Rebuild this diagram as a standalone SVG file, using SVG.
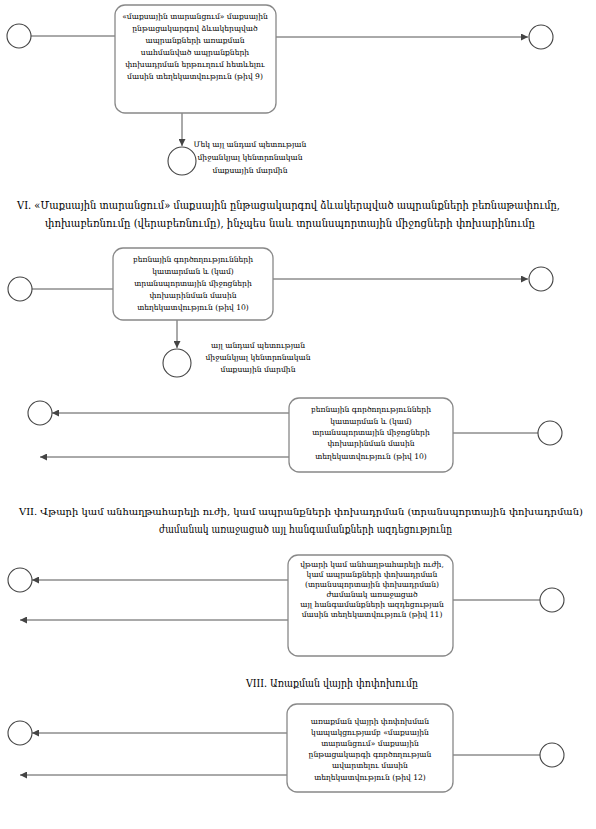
<svg xmlns="http://www.w3.org/2000/svg" width="596" height="829" viewBox="0 0 596 829">
<defs>
<marker id="ah" viewBox="0 0 10 10" refX="10" refY="5" markerWidth="7" markerHeight="7" orient="auto" markerUnits="userSpaceOnUse"><path d="M0,0 L10,5 L0,10 z" fill="#444"/></marker>
<style>
.bx{fill:#fff;stroke:#888;stroke-width:1.3}
.ci{fill:#fff;stroke:#444;stroke-width:1.1}
.ln{fill:none;stroke:#555;stroke-width:1;marker-end:url(#ah)}
.pl{fill:none;stroke:#555;stroke-width:1}
.t{font-family:"DejaVu Serif","DejaVu Sans",serif;font-size:7.6px;fill:#000;text-anchor:middle}
.h{font-family:"DejaVu Serif","DejaVu Sans","Liberation Serif",serif;font-size:10.5px;fill:#000}
</style>
</defs>
<rect width="596" height="829" fill="#fff"/>
<g id="connectors">
<line class="pl" x1="31" y1="36" x2="115" y2="36"/>
<line class="ln" x1="276" y1="37" x2="528" y2="37"/>
<line class="ln" x1="182" y1="113" x2="182" y2="146"/>
<line class="pl" x1="32" y1="289" x2="113" y2="289"/>
<line class="ln" x1="273" y1="279" x2="528" y2="279"/>
<line class="ln" x1="177" y1="320" x2="177" y2="348"/>
<line class="ln" x1="289" y1="413" x2="52" y2="413"/>
<line class="ln" x1="289" y1="457" x2="40" y2="457"/>
<line class="pl" x1="453" y1="433" x2="538" y2="433"/>
<line class="ln" x1="288" y1="580" x2="32" y2="580"/>
<line class="ln" x1="288" y1="620" x2="20" y2="620"/>
<line class="pl" x1="453" y1="600" x2="540" y2="600"/>
<line class="ln" x1="287" y1="733" x2="32" y2="733"/>
<line class="ln" x1="287" y1="775" x2="20" y2="775"/>
<line class="pl" x1="453" y1="755" x2="540" y2="755"/>
</g>
<g id="n1s"><circle class="ci" cx="19" cy="36" r="12"/></g>
<g id="n1e"><circle class="ci" cx="541" cy="37" r="12"/></g>
<g id="n1">
<rect class="bx" x="115" y="5" width="161" height="108" rx="10"/>
<text class="t"><tspan x="195" y="19">«մաքսային տարանցում» մաքսային</tspan><tspan x="195" y="31">ընթացակարգով ձևակերպված</tspan><tspan x="195" y="43">ապրանքների առաքման</tspan><tspan x="195" y="55">սահմանված  ապրանքների</tspan><tspan x="195" y="67">փոխադրման երթուղում հետևելու</tspan><tspan x="195" y="79">մասին տեղեկատվություն (թիվ 9)</tspan></text>
</g>
<g id="n1d"><circle class="ci" cx="182" cy="161" r="14"/>
<text class="t"><tspan x="250" y="147">Մեկ այլ անդամ պետության</tspan><tspan x="250" y="160">միջանկյալ կենտրոնական</tspan><tspan x="250" y="173">մաքսային մարմին</tspan></text></g>
<g id="h6"><text class="h"><tspan x="17" y="209" textLength="543" lengthAdjust="spacingAndGlyphs">VI. «Մաքսային տարանցում» մաքսային ընթացակարգով ձևակերպված ապրանքների բեռնաթափումը,</tspan><tspan x="45" y="227" textLength="490" lengthAdjust="spacingAndGlyphs">փոխաբեռնումը (վերաբեռնումը), ինչպես նաև տրանսպորտային միջոցների փոխարինումը</tspan></text></g>
<g id="n2s"><circle class="ci" cx="20" cy="289" r="12"/></g>
<g id="n2e"><circle class="ci" cx="541" cy="279" r="12"/></g>
<g id="n2">
<rect class="bx" x="113" y="248" width="160" height="72" rx="10"/>
<text class="t"><tspan x="193" y="262">բեռնային գործողությունների</tspan><tspan x="193" y="274">կատարման և (կամ)</tspan><tspan x="193" y="286">տրանսպորտային միջոցների</tspan><tspan x="193" y="298">փոխարինման մասին</tspan><tspan x="193" y="310">տեղեկատվություն (թիվ 10)</tspan></text>
</g>
<g id="n2d"><circle class="ci" cx="177" cy="363" r="14"/>
<text class="t"><tspan x="258" y="348">այլ անդամ պետության</tspan><tspan x="258" y="360">միջանկյալ կենտրոնական</tspan><tspan x="258" y="372">մաքսային մարմին</tspan></text></g>
<g id="n3s"><circle class="ci" cx="40" cy="413" r="12"/></g>
<g id="n3e"><circle class="ci" cx="550" cy="433" r="12"/></g>
<g id="n3">
<rect class="bx" x="289" y="398" width="164" height="74" rx="10"/>
<text class="t"><tspan x="371" y="412">բեռնային գործողությունների</tspan><tspan x="371" y="424">կատարման և (կամ)</tspan><tspan x="371" y="435">տրանսպորտային միջոցների</tspan><tspan x="371" y="446">փոխարինման մասին</tspan><tspan x="371" y="459">տեղեկատվություն (թիվ 10)</tspan></text>
</g>
<g id="h7"><text class="h"><tspan x="19" y="515" font-size="9.8" textLength="564" lengthAdjust="spacingAndGlyphs">VII. Վթարի կամ անհաղթահարելի ուժի, կամ ապրանքների փոխադրման (տրանսպորտային փոխադրման)</tspan><tspan x="159" y="533" textLength="293" lengthAdjust="spacingAndGlyphs">ժամանակ առաջացած այլ հանգամանքների ազդեցությունը</tspan></text></g>
<g id="n4s"><circle class="ci" cx="20" cy="580" r="12"/></g>
<g id="n4e"><circle class="ci" cx="552" cy="600" r="12"/></g>
<g id="n4">
<rect class="bx" x="288" y="555" width="165" height="101" rx="10"/>
<text class="t"><tspan x="372" y="567">վթարի կամ անհաղթահարելի ուժի,</tspan><tspan x="372" y="577">կամ ապրանքների փոխադրման</tspan><tspan x="372" y="587">(տրանսպորտային փոխադրման)</tspan><tspan x="372" y="597">ժամանակ առաջացած</tspan><tspan x="372" y="607">այլ հանգամանքների ազդեցության</tspan><tspan x="372" y="617">մասին տեղեկատվություն (թիվ 11)</tspan></text>
</g>
<g id="h8"><text class="h"><tspan x="246" y="687" textLength="172" lengthAdjust="spacingAndGlyphs">VIII. Առաքման վայրի փոփոխումը</tspan></text></g>
<g id="n5s"><circle class="ci" cx="20" cy="733" r="12"/></g>
<g id="n5e"><circle class="ci" cx="552" cy="755" r="12"/></g>
<g id="n5">
<rect class="bx" x="287" y="704" width="166" height="88" rx="10"/>
<text class="t"><tspan x="370" y="724">առաքման վայրի փոփոխման</tspan><tspan x="370" y="735">կապակցությամբ «մաքսային</tspan><tspan x="370" y="746">տարանցում» մաքսային</tspan><tspan x="370" y="757">ընթացակարգի գործողության</tspan><tspan x="370" y="768">ավարտելու մասին</tspan><tspan x="370" y="780">տեղեկատվություն (թիվ 12)</tspan></text>
</g>
</svg>
